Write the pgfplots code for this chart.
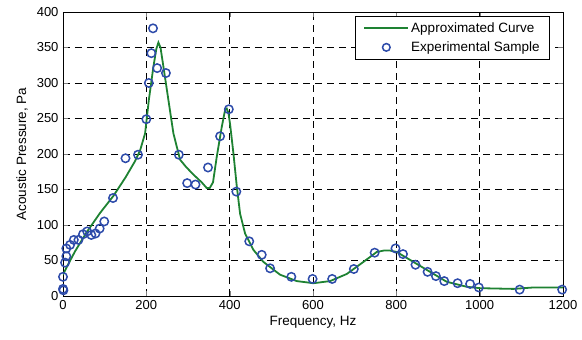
\documentclass[border=0pt]{standalone}
\usepackage{fontspec}
\setmainfont{Liberation Sans}
\usepackage{pgfplots}
\pgfplotsset{compat=1.18}
\definecolor{curvegreen}{RGB}{30,130,50}
\definecolor{markblue}{RGB}{45,75,170}
\pgfplotsset{
  longline/.style={legend image code/.code={\draw[##1] (0pt,0pt) -- (44pt,0pt);}},
  midmark/.style={legend image code/.code={\draw[mark repeat=2,mark phase=2,##1,mark size=3.8pt] plot coordinates {(0pt,0pt) (22pt,0pt) (44pt,0pt)};}},
}
\begin{document}
\begin{tikzpicture}
\begin{axis}[
  scale only axis, width=500pt, height=284pt,
  xmin=0, xmax=1200, ymin=0, ymax=400,
  xtick={0,200,...,1200}, ytick={0,50,...,400},
  /pgf/number format/assume math mode=true,
  /pgf/number format/1000 sep={},
  tick label style={font=\fontsize{13}{15}\selectfont},
  label style={font=\fontsize{13.5}{15}\selectfont},
  xlabel={Frequency, Hz}, ylabel={Acoustic Pressure, Pa},
  xlabel style={yshift=0pt}, ylabel style={yshift=2pt},
  tick align=inside, tickwidth=5pt,
  xticklabel style={yshift=-1pt}, yticklabel style={xshift=-1pt},
  grid=major, major grid style={black, dash pattern=on 7pt off 5pt, line width=0.7pt},
  axis line style={line width=0.9pt},
  legend style={at={(0.974,0.986)}, anchor=north east, draw=black, line width=0.9pt,
    font=\fontsize{13.5}{15}\selectfont, cells={anchor=west}, row sep=4pt,
    inner xsep=8pt, inner ysep=4pt},
  legend cell align=left,
]
\addplot[curvegreen, line width=1.8pt, longline] coordinates {
(0,30) (10,42) (29,63) (57,90) (89,117) (121,141) (150,167) (173,190) (185,205)
(197,229) (206,276) (217,323) (224,348) (229,357) (234,350) (241,323) (253,276)
(265,229) (281,192) (295,182) (313,171) (333,160) (345,152) (352,152) (360,160)
(369,196) (381,238) (389,262) (393,264) (397,258) (401,242) (409,201) (417,155)
(425,116) (437,88) (457,65) (481,48) (521,30) (561,21) (601,18) (641,21) (681,31)
(721,48) (753,62) (770,64) (785,64) (801,62) (841,48) (881,34) (921,20) (969,13)
(1001,11) (1081,10) (1129,12) (1200,12)
};
\addlegendentry{Approximated Curve}
\addplot[only marks, mark=o, mark size=4.2pt, markblue, mark options={line width=1.5pt}, midmark] coordinates {
(1,8) (0,10) (0,27) (5,47) (8,56) (8,67) (17,72) (26,79) (37,79) (48,87) (58,91)
(68,86) (78,88) (88,95) (99,105) (120,138) (150,194) (180,199) (200,249) (206,300)
(212,342) (216,377) (226,321) (247,314) (278,199) (298,159) (318,157) (348,181)
(377,225) (398,263) (416,147) (447,77) (477,58) (497,39) (548,27) (599,24) (646,24)
(698,38) (748,61) (798,67) (816,59) (846,44) (875,34) (895,28) (915,21) (947,18)
(977,17) (998,12) (1096,9) (1198,9)
};
\addlegendentry{Experimental Sample}
\end{axis}
\pgfresetboundingbox
\path (-63pt,-44pt) rectangle (519pt,296pt);
\end{tikzpicture}
\end{document}
